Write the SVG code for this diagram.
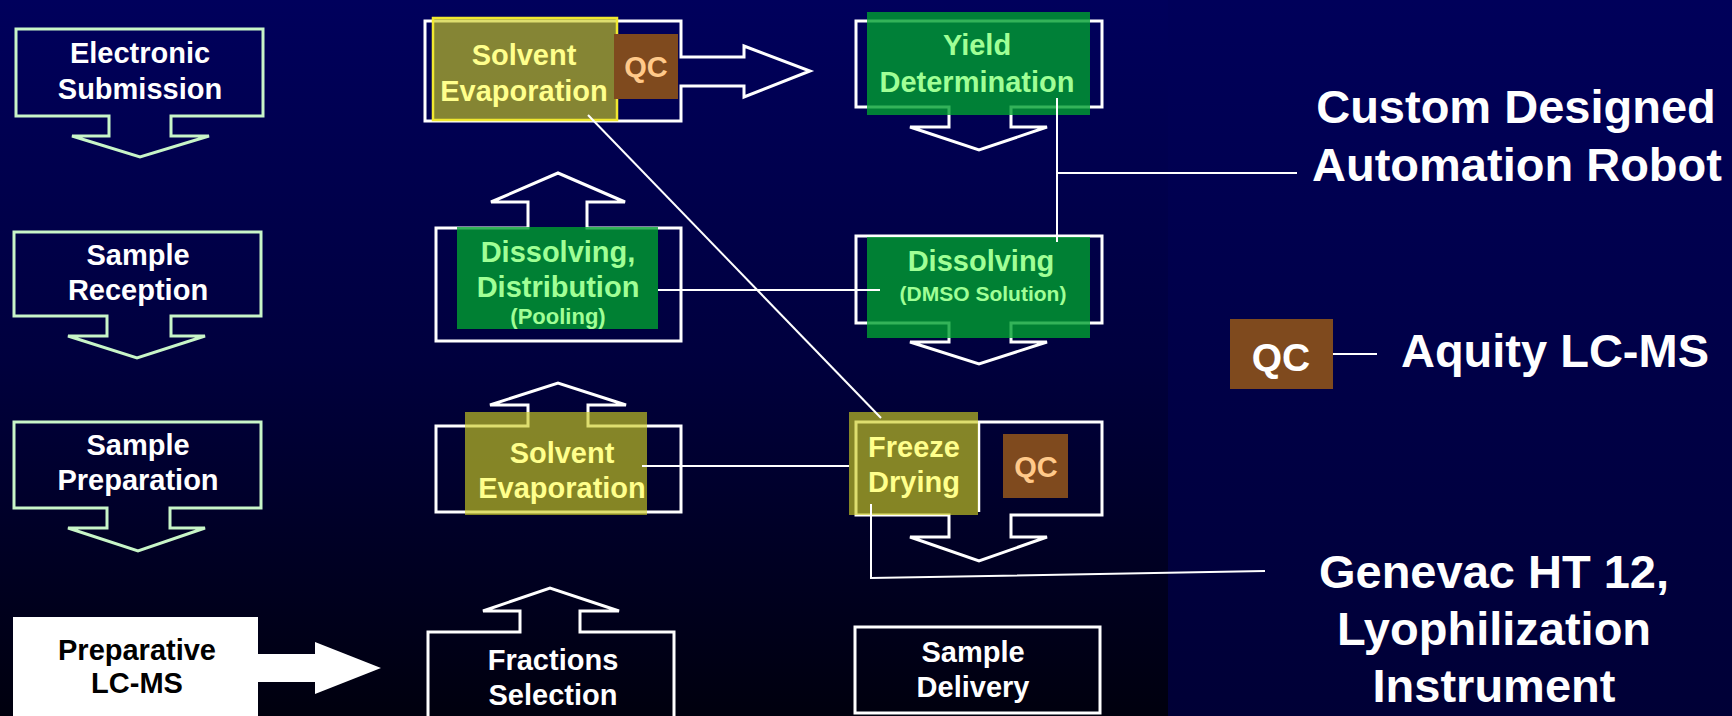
<svg xmlns="http://www.w3.org/2000/svg" width="1732" height="716" viewBox="0 0 1732 716">
<defs>
<linearGradient id="bgL" x1="0" y1="0" x2="0" y2="1">
<stop offset="0" stop-color="#00005c"/>
<stop offset="0.5" stop-color="#00003e"/>
<stop offset="1" stop-color="#00000e"/>
</linearGradient>
<linearGradient id="bgR" x1="0" y1="0" x2="0" y2="1">
<stop offset="0" stop-color="#00005a"/>
<stop offset="1" stop-color="#000036"/>
</linearGradient>
</defs>
<style>
.t{font-family:"Liberation Sans",Arial,sans-serif;font-weight:bold;text-anchor:middle}
.f28{font-size:29px}
.f46{font-size:47px}
.w{fill:#ffffff}
.k{fill:#000000}
.y{fill:#ffff8c}
.g{fill:#a0ff96}
.q{fill:#ffc98a}
.mint{fill:none;stroke:#c8f5c8;stroke-width:3;stroke-linejoin:miter}
.wo{fill:none;stroke:#ffffff;stroke-width:3;stroke-linejoin:miter}
.yel{fill:#cccc22;fill-opacity:0.65}
.grn{fill:#00a030;fill-opacity:0.8}
.qc{fill:#7f4a1e}
.conn line,.conn polyline{stroke:#ffffff;stroke-width:2;fill:none}
</style>
<rect x="0" y="0" width="1168" height="716" fill="url(#bgL)"/>
<rect x="1168" y="0" width="564" height="716" fill="url(#bgR)"/>

<g id="electronic-submission">
<polygon class="mint" points="16,29 263,29 263,116 171,116 171,136 209,136 140,157 72,136 109,136 109,116 16,116"/>
<text class="t f28 w" x="140" y="63">Electronic</text>
<text class="t f28 w" x="140" y="99">Submission</text>
</g>
<g id="sample-reception">
<polygon class="mint" points="14,232 261,232 261,316 171,316 171,336 205,336 137,358 68,336 107,336 107,316 14,316"/>
<text class="t f28 w" x="138" y="265">Sample</text>
<text class="t f28 w" x="138" y="300">Reception</text>
</g>
<g id="sample-preparation">
<polygon class="mint" points="14,422 261,422 261,508 170,508 170,528 205,528 138,551 68,528 107,528 107,508 14,508"/>
<text class="t f28 w" x="138" y="455">Sample</text>
<text class="t f28 w" x="138" y="490">Preparation</text>
</g>
<g id="preparative-lcms">
<rect x="13" y="617" width="245" height="110" fill="#ffffff"/>
<polygon points="258,654 315,654 315,642 381,668 315,694 315,682 258,682" fill="#ffffff"/>
<text class="t f28 k" x="137" y="660">Preparative</text>
<text class="t f28 k" x="137" y="693">LC-MS</text>
</g>

<g id="solvent-evaporation-top">
<polygon class="wo" points="425,21 681,21 681,57 744,57 744,46 810,71 744,97 744,86 681,86 681,121 425,121"/>
<rect class="yel" x="433" y="18" width="184" height="102" stroke="#f0e830" stroke-width="2.5"/>
<rect class="qc" x="614" y="34" width="64" height="65"/>
<text class="t f28 y" x="524" y="65">Solvent</text>
<text class="t f28 y" x="524" y="101">Evaporation</text>
<text class="t f28 q" x="646" y="77">QC</text>
</g>
<g id="dissolving-distribution">
<polygon class="wo" points="436,228 528,228 528,202 491,202 558,173 625,202 587,202 587,228 681,228 681,341 436,341"/>
<rect class="grn" x="457" y="227" width="201" height="102"/>
<text class="t f28 g" x="558" y="262">Dissolving,</text>
<text class="t f28 g" x="558" y="297">Distribution</text>
<text class="t g" style="font-size:22px" x="558" y="324">(Pooling)</text>
</g>
<g id="solvent-evaporation-bottom">
<polygon class="wo" points="436,426 528,426 528,405 490,405 558,383 626,405 588,405 588,426 681,426 681,512 436,512"/>
<rect class="yel" x="465" y="412" width="182" height="103"/>
<text class="t f28 y" x="562" y="463">Solvent</text>
<text class="t f28 y" x="562" y="498">Evaporation</text>
</g>
<g id="fractions-selection">
<polygon class="wo" points="428,722 428,632 520,632 520,611 483,611 550,588 619,611 580,611 580,632 674,632 674,722"/>
<text class="t f28 w" x="553" y="670">Fractions</text>
<text class="t f28 w" x="553" y="705">Selection</text>
</g>

<g id="yield-determination">
<polygon class="wo" points="856,21 1102,21 1102,107 1011,107 1011,127 1047,127 979,150 910,127 949,127 949,107 856,107"/>
<rect class="grn" x="867" y="12" width="223" height="103"/>
<text class="t f28 g" x="977" y="55">Yield</text>
<text class="t f28 g" x="977" y="92">Determination</text>
</g>
<g id="dissolving-dmso">
<polygon class="wo" points="856,236 1102,236 1102,323 1011,323 1011,342 1047,342 979,364 910,342 949,342 949,323 856,323"/>
<rect class="grn" x="867" y="237" width="223" height="101"/>
<text class="t f28 g" x="981" y="271">Dissolving</text>
<text class="t g" style="font-size:21px" x="983" y="301">(DMSO Solution)</text>
</g>
<g id="freeze-drying">
<polygon class="wo" points="856,422 1102,422 1102,515 1011,515 1011,537 1047,537 979,561 910,537 949,537 949,515 856,515"/>
<line x1="979" y1="422" x2="979" y2="512" stroke="#ffffff" stroke-width="2.5"/>
<rect class="yel" x="849" y="412" width="129" height="103"/>
<rect class="qc" x="1003" y="434" width="65" height="64"/>
<text class="t f28 y" x="914" y="457">Freeze</text>
<text class="t f28 y" x="914" y="492">Drying</text>
<text class="t f28 q" x="1036" y="477">QC</text>
</g>
<g id="sample-delivery">
<rect class="wo" x="855" y="627" width="245" height="86"/>
<text class="t f28 w" x="973" y="662">Sample</text>
<text class="t f28 w" x="973" y="697">Delivery</text>
</g>

<g id="robot-label">
<text class="t f46 w" x="1516" y="123">Custom Designed</text>
<text class="t f46 w" x="1517" y="181">Automation Robot</text>
</g>
<g id="qc-legend">
<rect class="qc" x="1230" y="319" width="103" height="70"/>
<text class="t w" style="font-size:39px" x="1281" y="371">QC</text>
</g>
<g id="aquity-label">
<text class="t w" style="font-size:47px" x="1555" y="367">Aquity LC-MS</text>
</g>
<g id="genevac-label">
<text class="t f46 w" x="1494" y="588">Genevac HT 12,</text>
<text class="t f46 w" x="1494" y="645">Lyophilization</text>
<text class="t f46 w" x="1494" y="702">Instrument</text>
</g>

<g id="connectors" class="conn">
<line x1="588" y1="115" x2="881" y2="418"/>
<line x1="1057" y1="98" x2="1057" y2="242"/>
<line x1="1057" y1="173" x2="1297" y2="173"/>
<line x1="658" y1="290" x2="880" y2="290"/>
<line x1="642" y1="466" x2="849" y2="466"/>
<polyline points="871,504 871,578 1265,571"/>
<line x1="1333" y1="354" x2="1377" y2="354"/>
</g>
</svg>
